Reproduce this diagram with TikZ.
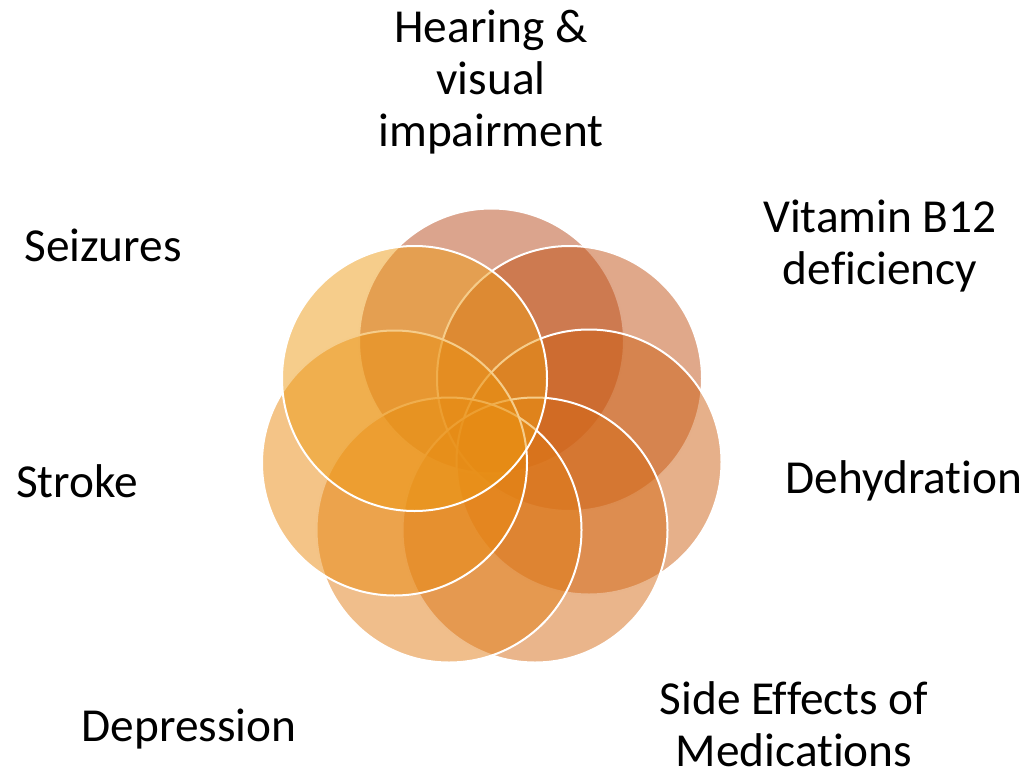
\documentclass[tikz,border=0pt]{standalone}
\usepackage{fontspec}
\setmainfont{Carlito}[Ligatures=CommonOff]
\usepackage{tikz}

\definecolor{petalA}{RGB}{183,73,27}
\definecolor{petalB}{RGB}{193,81,21}
\definecolor{petalC}{RGB}{205,97,21}
\definecolor{petalD}{RGB}{213,107,23}
\definecolor{petalE}{RGB}{225,125,23}
\definecolor{petalF}{RGB}{233,137,15}
\definecolor{petalG}{RGB}{237,155,23}

\tikzset{
  petal/.style={circle, draw=white, line width=1.5pt, fill opacity=0.5,
    minimum size=198.75pt, inner sep=0pt},
  cause/.style={align=center, font=\fontsize{35.5}{39}\selectfont, inner sep=0pt}
}

\begin{document}
\begin{tikzpicture}[x=0.75pt, y=-0.75pt]
  \useasboundingbox (0,0) rectangle (1028,771);
  % circles, drawn clockwise from the top
  \node[petal, fill=petalA] (hearing)    at (491.5,341) {};
  \node[petal, fill=petalB] (vitamin)    at (569.5,378.5) {};
  \node[petal, fill=petalC] (dehydr)     at (589,462) {};
  \node[petal, fill=petalD] (sideeff)    at (535,530) {};
  \node[petal, fill=petalE] (depress)    at (449,530) {};
  \node[petal, fill=petalF] (stroke)     at (394.5,463) {};
  \node[petal, fill=petalG] (seizures)   at (414.5,378.5) {};
  % labels
  \node[cause] (hearinglbl)  at (491,82)  {Hearing \&\\visual\\impairment};
  \node[cause] (vitaminlbl)  at (880,246) {Vitamin B12\\deficiency};
  \node[cause] (dehydrlbl)   at (904,481) {Dehydration};
  \node[cause] (sideefflbl)  at (794,724) {Side Effects of\\Medications};
  \node[cause] (depresslbl)  at (189,729) {Depression};
  \node[cause] (strokelbl)   at (77,481)  {Stroke};
  \node[cause] (seizureslbl) at (103,245) {Seizures};
\end{tikzpicture}
\end{document}
